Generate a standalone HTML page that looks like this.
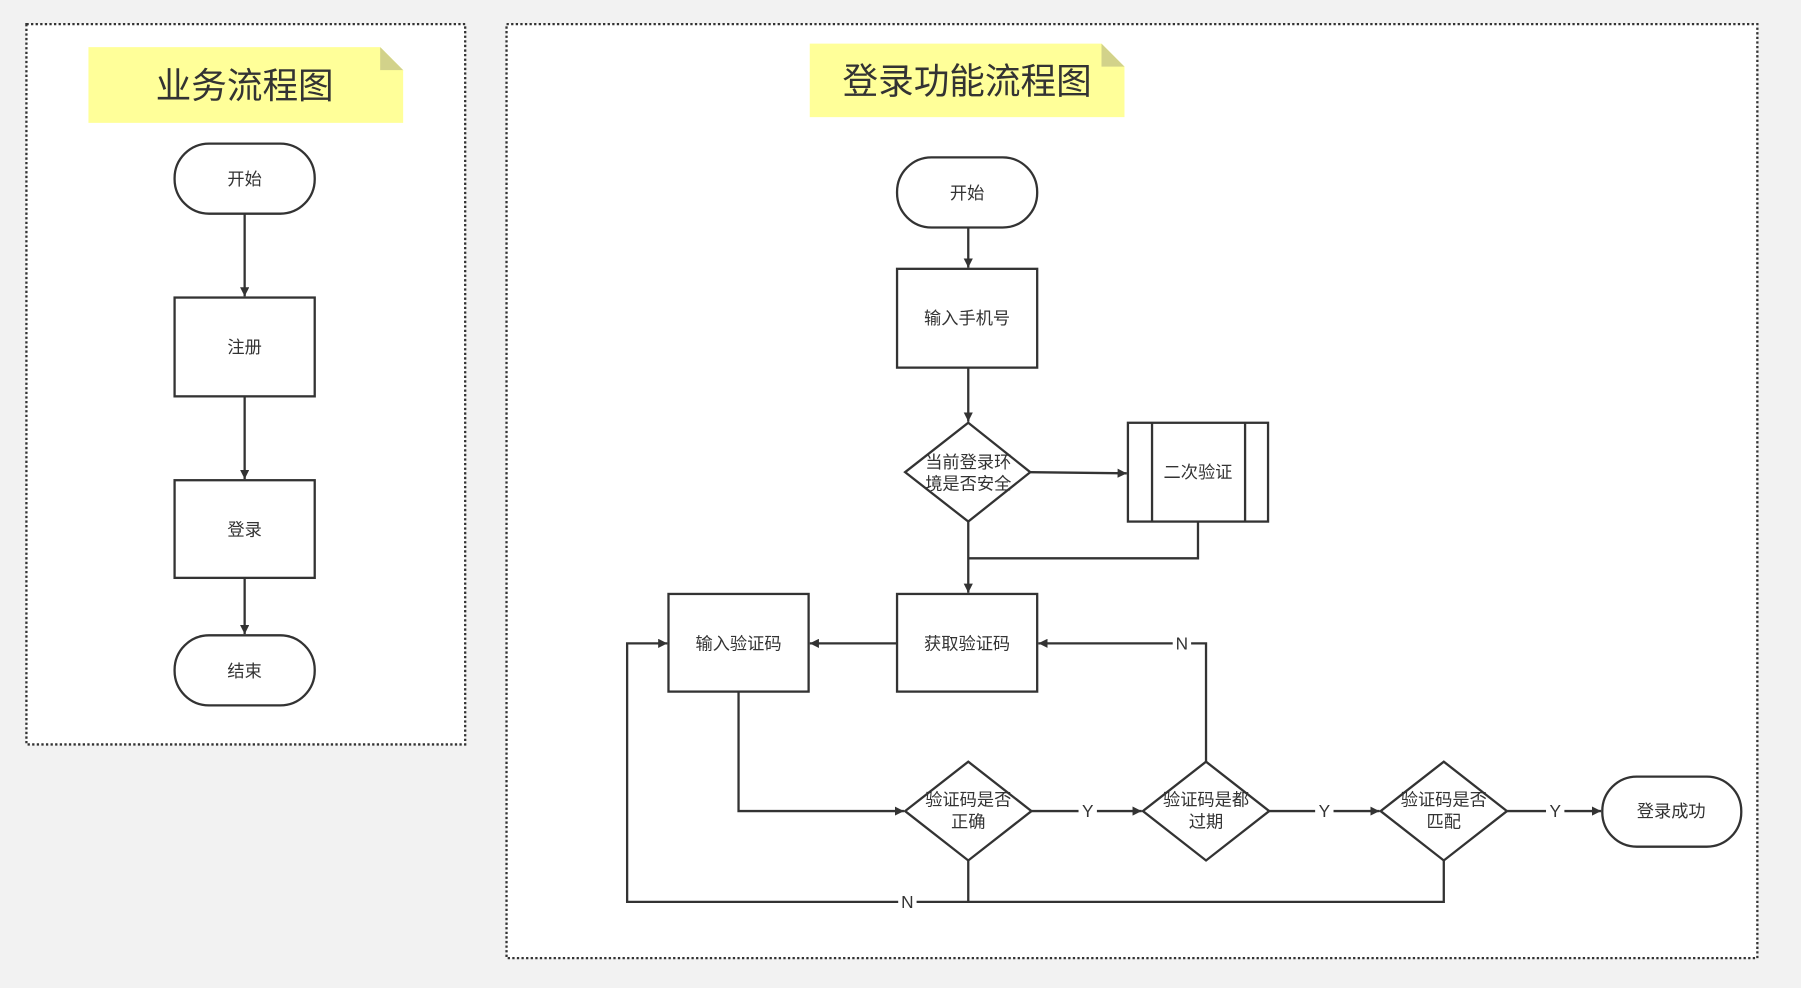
<!DOCTYPE html>
<html><head><meta charset="utf-8"><style>
html,body{margin:0;padding:0;background:#f2f2f2;width:1801px;height:988px;overflow:hidden}
svg{display:block}
text{font-family:"Liberation Sans","Noto Sans CJK SC",sans-serif;fill:#333;text-anchor:middle;dominant-baseline:central}
.s{fill:#fff;stroke:#333;stroke-width:2}
.l{fill:none;stroke:#333;stroke-width:2}
.t{font-size:15px}
</style></head><body>
<svg width="1801" height="988" viewBox="0 0 1568 860" preserveAspectRatio="none">
<defs><marker id="a" viewBox="0 0 10 10" refX="10" refY="5" markerWidth="8" markerHeight="8" markerUnits="userSpaceOnUse" orient="auto"><path d="M0,0 L10,5 L0,10 z" fill="#333"/></marker></defs>
<rect x="23" y="21" width="382" height="627" fill="#fff" stroke="#333" stroke-width="2" stroke-dasharray="2,2"/>
<rect x="441" y="21" width="1089" height="813" fill="#fff" stroke="#333" stroke-width="2" stroke-dasharray="2,2"/>
<path d="M77,41 H331 L351,61 V107 H77 Z" fill="#ffff99"/><path d="M331,41 L351,61 H331 Z" fill="#d2d28a"/>
<text x="213" y="75" style="font-size:31px">业务流程图</text>
<path d="M705,38 H959 L979,58 V102 H705 Z" fill="#ffff99"/><path d="M959,38 L979,58 H959 Z" fill="#d2d28a"/>
<text x="842" y="71" style="font-size:31px">登录功能流程图</text>
<!-- left -->
<rect class="s" x="152" y="125" width="122" height="61" rx="30"/><text class="t" x="213" y="156">开始</text>
<rect class="s" x="152" y="259" width="122" height="86"/><text class="t" x="213" y="302">注册</text>
<rect class="s" x="152" y="418" width="122" height="85"/><text class="t" x="213" y="461">登录</text>
<rect class="s" x="152" y="553" width="122" height="61" rx="30"/><text class="t" x="213" y="584">结束</text>
<path class="l" d="M213,186 V258" marker-end="url(#a)"/>
<path class="l" d="M213,345 V417" marker-end="url(#a)"/>
<path class="l" d="M213,503 V552" marker-end="url(#a)"/>
<!-- right -->
<rect class="s" x="781" y="137" width="122" height="61" rx="30"/><text class="t" x="842" y="168">开始</text>
<rect class="s" x="781" y="234" width="122" height="86"/><text class="t" x="842" y="277">输入手机号</text>
<path class="s" d="M843,368 L897,411 L843,454 L788,411 Z"/><text class="t" x="843" y="402">当前登录环</text><text class="t" x="843" y="421">境是否安全</text>
<rect class="s" x="982" y="368" width="122" height="86"/><path class="l" d="M1003,368 V454 M1084,368 V454"/><text class="t" x="1043" y="411">二次验证</text>
<rect class="s" x="781" y="517" width="122" height="85"/><text class="t" x="842" y="560">获取验证码</text>
<rect class="s" x="582" y="517" width="122" height="85"/><text class="t" x="643" y="560">输入验证码</text>
<path class="s" d="M843,663 L898,706 L843,749 L788,706 Z"/><text class="t" x="843" y="696">验证码是否</text><text class="t" x="843" y="715">正确</text>
<path class="s" d="M1050,663 L1105,706 L1050,749 L995,706 Z"/><text class="t" x="1050" y="696">验证码是都</text><text class="t" x="1050" y="715">过期</text>
<path class="s" d="M1257,663 L1312,706 L1257,749 L1202,706 Z"/><text class="t" x="1257" y="696">验证码是否</text><text class="t" x="1257" y="715">匹配</text>
<rect class="s" x="1395" y="676" width="121" height="61" rx="30"/><text class="t" x="1455" y="706">登录成功</text>
<path class="l" d="M843,198 V233" marker-end="url(#a)"/>
<path class="l" d="M843,320 V367" marker-end="url(#a)"/>
<path class="l" d="M897,411 L981,412" marker-end="url(#a)"/>
<path class="l" d="M843,454 V516" marker-end="url(#a)"/>
<path class="l" d="M1043,454 V486 H843"/>
<path class="l" d="M781,560 L705,560" marker-end="url(#a)"/>
<path class="l" d="M643,602 V706 H787" marker-end="url(#a)"/>
<path class="l" d="M898,706 H994" marker-end="url(#a)"/>
<path class="l" d="M1105,706 H1201" marker-end="url(#a)"/>
<path class="l" d="M1312,706 H1394" marker-end="url(#a)"/>
<path class="l" d="M1050,663 V560 H904" marker-end="url(#a)"/>
<path class="l" d="M843,749 V785 M1257,749 V785 H546 V560 H581" marker-end="url(#a)"/>
<rect x="939" y="697" width="16" height="18" fill="#fff"/><text class="t" x="947" y="706">Y</text>
<rect x="1145" y="697" width="16" height="18" fill="#fff"/><text class="t" x="1153" y="706">Y</text>
<rect x="1346" y="697" width="16" height="18" fill="#fff"/><text class="t" x="1354" y="706">Y</text>
<rect x="1021" y="551" width="16" height="18" fill="#fff"/><text class="t" x="1029" y="560">N</text>
<rect x="782" y="776" width="16" height="18" fill="#fff"/><text class="t" x="790" y="785">N</text>
</svg>
</body></html>
